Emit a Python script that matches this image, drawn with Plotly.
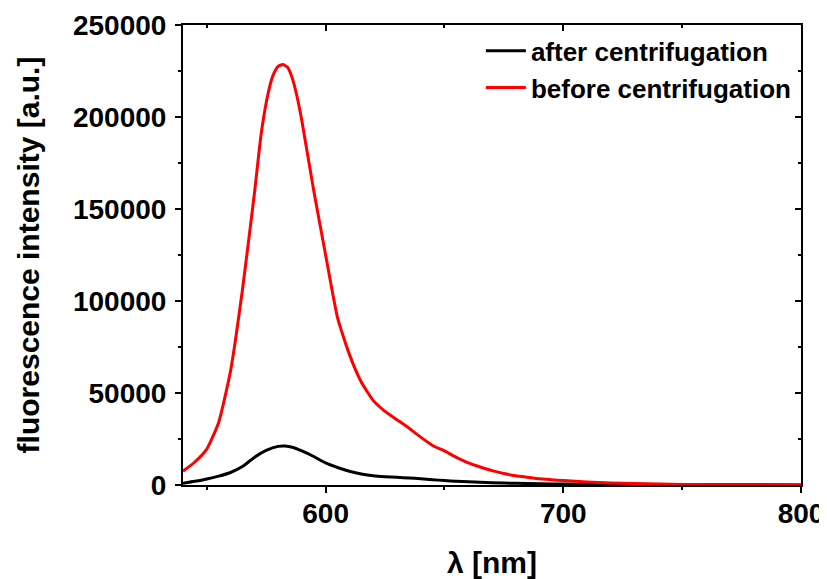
import plotly.graph_objects as go

# wavelength (nm) and intensities (a.u.)
wl_before = [540, 545, 550, 555, 560, 565, 570, 573, 576, 578, 580, 582, 584, 586, 588, 590,
             595, 600, 605, 610, 615, 620, 625, 630, 635, 640, 645, 650, 655, 660, 665, 670,
             675, 680, 685, 690, 695, 700, 710, 720, 730, 740, 750, 760, 780, 800]
before = [7500, 12500, 19500, 34000, 62000, 106000, 158000, 192000, 214000, 223000, 227500,
          228500, 227000, 221000, 211000, 198000, 160000, 125000, 91000, 71000, 56000, 46000,
          40000, 35500, 31000, 26000, 21500, 18500, 15000, 12000, 9800, 7800, 6200, 5000,
          4200, 3400, 2900, 2400, 1600, 1100, 800, 500, 300, 200, 100, 50]

wl_after = [540, 545, 550, 555, 560, 565, 570, 575, 580, 583, 586, 590, 595, 600, 605, 610,
            615, 620, 625, 630, 635, 640, 645, 650, 655, 660, 670, 680, 690, 700, 720, 750, 800]
after = [1000, 2000, 3300, 4800, 6800, 10000, 15000, 18800, 21000, 21200, 20500, 18500, 15500,
         12000, 9500, 7500, 6000, 5000, 4500, 4200, 3800, 3400, 2900, 2400, 2000, 1700, 1200,
         900, 700, 500, 300, 150, 50]

x_range = [540, 800]
y_range = [0, 250000]

FONT = "Liberation Sans, Arial, sans-serif"

fig = go.Figure()
fig.add_trace(go.Scatter(x=wl_after, y=after, mode="lines", name="after centrifugation",
                         line=dict(color="black", width=3, shape="spline", smoothing=0.5)))
fig.add_trace(go.Scatter(x=wl_before, y=before, mode="lines", name="before centrifugation",
                         line=dict(color="#ff0000", width=3, shape="spline", smoothing=0.5)))
# empty helper trace so the mirrored (inward-tick) axes are drawn
fig.add_trace(go.Scatter(x=[], y=[], xaxis="x2", yaxis="y2", showlegend=False,
                         hoverinfo="skip"))

fig.update_layout(
    width=819, height=571,
    margin=dict(l=175, r=26, t=17, b=94),
    paper_bgcolor="white", plot_bgcolor="white",
    font=dict(family=FONT, color="black"),
    showlegend=True,
    legend=dict(x=0.482, y=0.995, xanchor="left", yanchor="top",
                bgcolor="rgba(0,0,0,0)", borderwidth=0,
                font=dict(family=FONT, size=26, weight="bold", color="black"),
                itemwidth=40, tracegroupgap=0),
    xaxis=dict(range=x_range, dtick=100, tick0=0, ticks="outside", ticklen=6, tickwidth=2,
               tickcolor="black", showline=True, linewidth=2, linecolor="black",
               mirror=True, showgrid=False, zeroline=False, automargin=False,
               tickformat="d", ticklabelstandoff=-4,
               minor=dict(dtick=50, ticks="outside", ticklen=3, tickwidth=2, tickcolor="black"),
               tickfont=dict(family=FONT, size=28, weight="bold"),
               title=dict(text="λ [nm]", standoff=29,
                          font=dict(family=FONT, size=30, weight="bold"))),
    yaxis=dict(range=y_range, dtick=50000, ticks="outside", ticklen=6, tickwidth=2,
               tickcolor="black", showline=True, linewidth=2, linecolor="black",
               mirror=True, showgrid=False, zeroline=False, automargin=False,
               tickformat="d", separatethousands=False,
               minor=dict(dtick=25000, ticks="outside", ticklen=3, tickwidth=2, tickcolor="black"),
               tickfont=dict(family=FONT, size=28, weight="bold"),
               ticklabelstandoff=3,
               title=dict(text="fluorescence intensity [a.u.]", standoff=24,
                          font=dict(family=FONT, size=30, weight="bold"))),
    xaxis2=dict(overlaying="x", side="top", anchor="y", range=x_range, dtick=100, tick0=0,
                ticks="inside", ticklen=6, tickwidth=2, tickcolor="black", automargin=False,
                showticklabels=False, showline=False, showgrid=False, zeroline=False,
                minor=dict(dtick=50, ticks="inside", ticklen=3, tickwidth=2, tickcolor="black")),
    yaxis2=dict(overlaying="y", side="right", anchor="x", range=y_range, dtick=50000,
                ticks="inside", ticklen=6, tickwidth=2, tickcolor="black", automargin=False,
                showticklabels=False, showline=False, showgrid=False, zeroline=False,
                minor=dict(dtick=25000, ticks="inside", ticklen=3, tickwidth=2, tickcolor="black")),
)

fig.write_html("out.html")
